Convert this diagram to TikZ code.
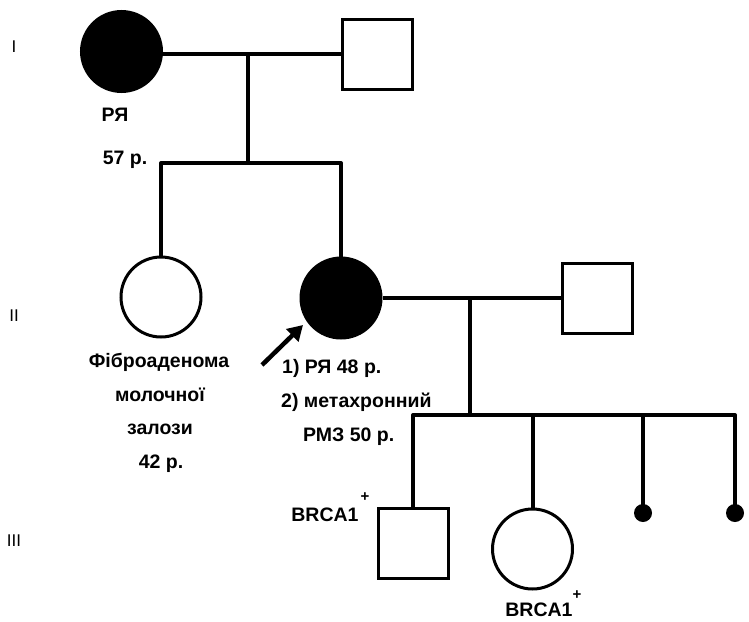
\documentclass[tikz,border=0pt]{standalone}
\usepackage{fontspec}
\setmainfont{Liberation Sans}
\usetikzlibrary{arrows.meta}
\tikzset{
  fem/.style={circle, draw, line width=3pt, minimum size=80pt, inner sep=0pt},
  affected/.style={fill=black},
  male/.style={rectangle, draw, line width=3pt, minimum size=70pt, inner sep=0pt},
  loss/.style={circle, fill=black, minimum size=18pt, inner sep=0pt},
  rel/.style={line width=4pt},
  lbl/.style={font=\fontsize{19.5}{23}\selectfont\bfseries, inner sep=0pt},
  gen/.style={font=\fontsize{17}{20}\selectfont, inner sep=0pt},
  sup/.style={font=\fontsize{15}{17}\selectfont\bfseries, inner sep=0pt}
}
\begin{document}
\begin{tikzpicture}[x=1pt,y=-1pt]
\useasboundingbox (0,0) rectangle (749,621);
% generation labels
\node[gen] (g1) at (14,47) {I};
\node[gen] (g2) at (14,316) {II};
\node[gen] (g3) at (14,541) {III};
% generation I
\node[fem,affected] (a) at (121.5,51.5) {};
\node[male] (b) at (377,54) {};
\coordinate (m1) at (248,54);
\coordinate (s1) at (248,163);
% generation II
\node[fem] (c) at (161,297) {};
\node[fem,affected] (d) at (341,298) {};
\node[male] (e) at (597,298) {};
\coordinate (m2) at (470,298);
\coordinate (s2) at (470,415);
% generation III
\node[male] (f) at (413,543) {};
\node[fem] (g) at (532.5,549) {};
\node[loss] (h) at (643,513) {};
\node[loss] (k) at (735,513) {};
% connectors
\draw[rel] (a.east |- m1) -- (b.west);
\draw[rel] (m1) -- (s1);
\draw[rel,line cap=round] (c.north |- s1) -- (d.north |- s1);
\draw[rel] (c.north |- s1) -- (c.north);
\draw[rel] (d.north |- s1) -- (d.north);
\draw[rel] (d.east) -- (e.west);
\draw[rel] (m2) -- (s2);
\draw[rel,line cap=round] (f.north |- s2) -- (k.center |- s2);
\draw[rel] (f.north |- s2) -- (f.north);
\draw[rel] (g.north |- s2) -- (g.north);
\draw[rel] (h.center |- s2) -- (h.center);
\draw[rel] (k.center |- s2) -- (k.center);
% proband arrow
\coordinate (pt) at (262,365);
\coordinate (ph) at (303,325);
\draw[line width=4.5pt,-{Triangle[length=15pt,width=17pt]}] (pt) -- (ph);
% labels
\node[lbl] (l1) at (115,115) {РЯ};
\node[lbl] (l2) at (125,160) {57 р.};
\node[lbl] (l3) at (159,362) {Фіброаденома};
\node[lbl] (l4) at (160,395) {молочної};
\node[lbl] (l5) at (160,429) {залози};
\node[lbl] (l6) at (161,464) {42 р.};
\node[lbl,anchor=west] (l7) at (282,368) {1) РЯ 48 р.};
\node[lbl,anchor=west] (l8) at (281,402) {2) метахронний};
\node[lbl,anchor=west] (l9) at (303,437) {РМЗ 50 р.};
\node[lbl] (l10) at (325,515) {BRCA1};
\node[sup] (p1) at (365,497) {+};
\node[lbl] (l11) at (539,610) {BRCA1};
\node[sup] (p2) at (577,595) {+};
\end{tikzpicture}
\end{document}
